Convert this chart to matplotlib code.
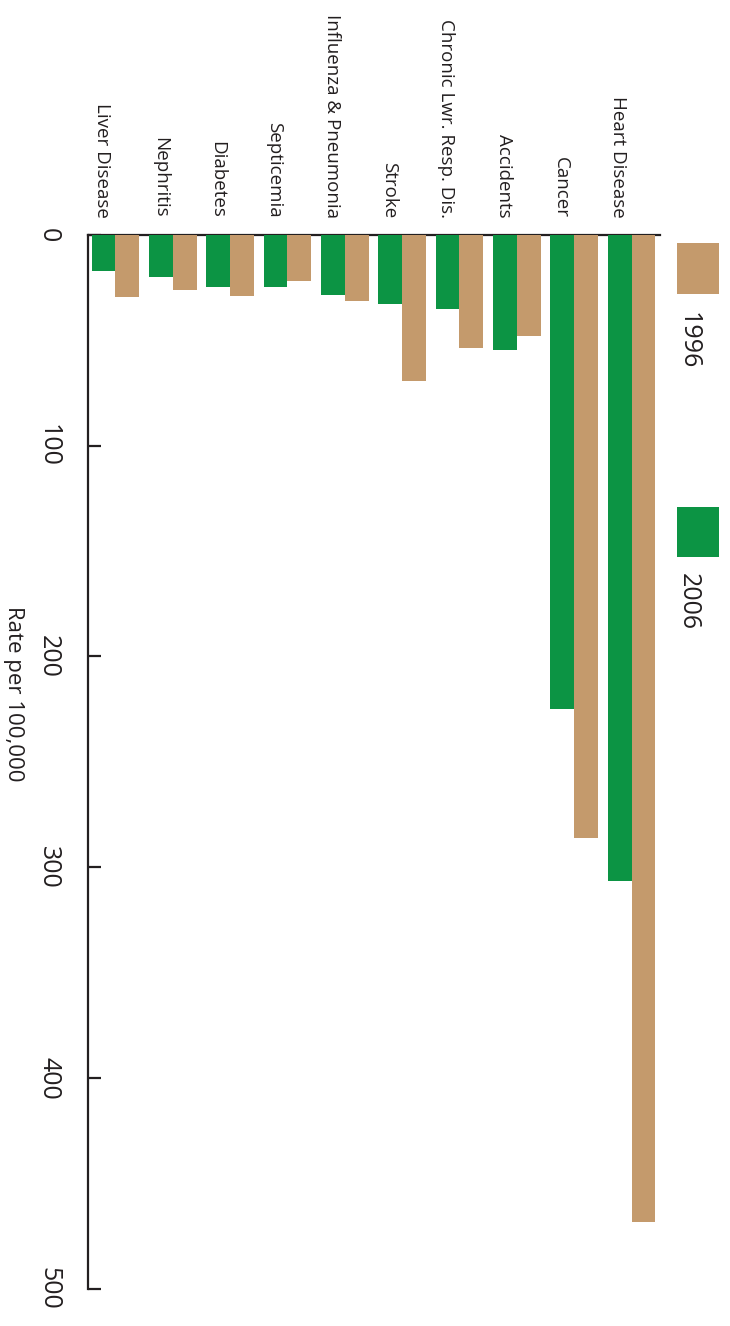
import matplotlib
matplotlib.use("Agg")
import matplotlib.pyplot as plt
from matplotlib.patches import Rectangle
import numpy as np

plt.rcParams['font.family'] = ['Open Sans', 'DejaVu Sans']

categories = ["Liver Disease", "Nephritis", "Diabetes", "Septicemia",
              "Influenza & Pneumonia", "Stroke", "Chronic Lwr. Resp. Dis.",
              "Accidents", "Cancer", "Heart Disease"]
rate_2006 = [17.1, 19.8, 24.5, 24.5, 28.5, 32.9, 35.1, 54.4, 224.9, 306.4]
rate_1996 = [29.4, 25.9, 28.8, 21.7, 31.3, 69.4, 53.5, 47.9, 286.0, 468.2]
y_ticks = [0, 100, 200, 300, 400, 500]
series_names = ["1996", "2006"]

GREEN = "#0c9444"
TAN = "#c49a6c"
DARK = "#231f20"

W, H = 730, 1326
fig = plt.figure(figsize=(W / 100, H / 100), dpi=100)
ax = fig.add_axes([87.5 / W, 1 - 1288.7 / H, 572.5 / W, 1053.7 / H])

x = np.arange(len(categories))
bw = 0.415
ax.bar(x - bw / 2, rate_2006, width=bw, color=GREEN, zorder=3, linewidth=0)
ax.bar(x + bw / 2, rate_1996, width=bw, color=TAN, zorder=3, linewidth=0)

ax.set_xlim(-0.488, 9.497)
ax.set_ylim(500, 0)

for s in ["right", "bottom"]:
    ax.spines[s].set_visible(False)
for s in ["left", "top"]:
    ax.spines[s].set_color(DARK)
    ax.spines[s].set_linewidth(1.6)
    ax.spines[s].set_zorder(2)

ax.set_xticks([])
ax.set_yticks(y_ticks)
ax.set_yticklabels([str(v) for v in y_ticks])
ax.tick_params(axis="y", direction="in", length=9.5, width=1.6, color=DARK,
               pad=19, labelsize=18, labelcolor=DARK, labelrotation=-90)
for lab in ax.get_yticklabels():
    lab.set_va("center")

for i, name in enumerate(categories):
    ax.text(i - 0.23, -8.1, name, rotation=-90, ha="center", va="bottom",
            fontsize=13.5, color=DARK, clip_on=False)

fig.text(13 / W, 1 - 694 / H, "Rate per 100,000", rotation=-90,
         ha="center", va="center", fontsize=16, color=DARK)

# legend
leg = [(TAN, series_names[0], 243, 294, 340.5),
       (GREEN, series_names[1], 507, 557, 602)]
for col, name, y0, y1, ty in leg:
    fig.add_artist(Rectangle((677 / W, 1 - y1 / H), 42 / W, (y1 - y0) / H,
                             transform=fig.transFigure, facecolor=col,
                             edgecolor="none"))
    fig.text(688 / W, 1 - ty / H, name, rotation=-90, ha="center",
             va="center", fontsize=18, color=DARK)

fig.savefig("out.png", dpi=100)
